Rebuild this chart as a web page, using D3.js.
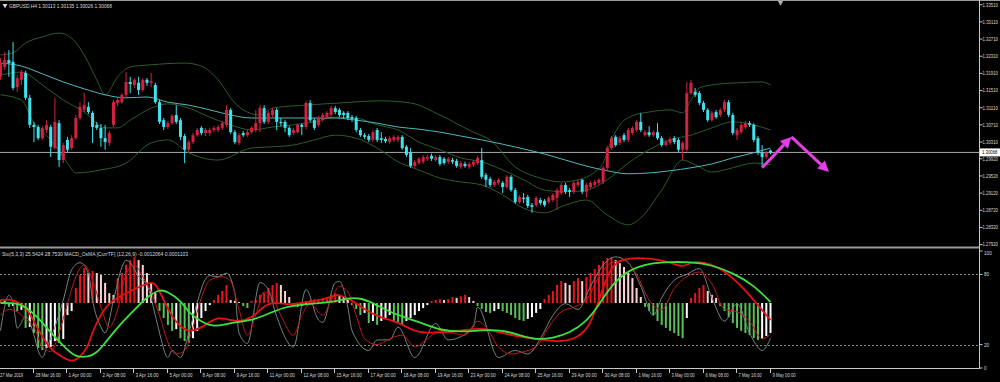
<!DOCTYPE html>
<html>
<head>
<meta charset="utf-8">
<script src="https://cdn.jsdelivr.net/npm/d3@7/dist/d3.min.js"></script>
<style>
  html, body { margin: 0; padding: 0; background: #000; }
  svg { display: block; }
  text { font-family: "Liberation Sans", Arial, sans-serif; fill: #d8d8d8; }
</style>
</head>
<body>
<div id="chart"></div>
<script>
'use strict';

// GBPUSD H4 bars, [open, high, low, close]
const ohlc = [
  [1.3183,1.3227,1.3176,1.3215],[1.3206,1.3241,1.3199,1.3222],[1.3222,1.3245,1.3183,1.3215],[1.3218,1.3264,1.3152,1.3157],
  [1.3159,1.3187,1.3148,1.3180],[1.3176,1.3199,1.3164,1.3194],[1.3192,1.3197,1.3129,1.3134],[1.3134,1.3141,1.3064,1.3071],
  [1.3071,1.3078,1.3031,1.3066],[1.3066,1.3071,1.3036,1.3040],[1.3040,1.3068,1.3036,1.3064],[1.3059,1.3082,1.3052,1.3071],
  [1.3066,1.3071,1.2996,1.3020],[1.3017,1.3134,1.3013,1.3078],[1.3075,1.3082,1.2973,1.2989],[1.2989,1.3029,1.2982,1.3024],
  [1.3036,1.3043,1.3008,1.3013],[1.3017,1.3047,1.3013,1.3040],[1.3040,1.3094,1.3036,1.3087],[1.3087,1.3124,1.3082,1.3113],
  [1.3106,1.3145,1.3101,1.3117],[1.3113,1.3124,1.3096,1.3101],[1.3099,1.3103,1.3029,1.3066],[1.3071,1.3078,1.3059,1.3064],
  [1.3064,1.3073,1.3020,1.3040],[1.3040,1.3071,1.3013,1.3031],[1.3029,1.3057,1.3022,1.3052],[1.3071,1.3129,1.3066,1.3124],
  [1.3122,1.3134,1.3115,1.3129],[1.3124,1.3145,1.3120,1.3141],[1.3141,1.3194,1.3136,1.3171],[1.3171,1.3183,1.3145,1.3166],
  [1.3164,1.3180,1.3157,1.3176],[1.3169,1.3183,1.3141,1.3152],[1.3152,1.3180,1.3148,1.3176],[1.3176,1.3180,1.3162,1.3169],
  [1.3169,1.3192,1.3159,1.3173],[1.3164,1.3169,1.3120,1.3124],[1.3124,1.3129,1.3073,1.3078],[1.3082,1.3087,1.3059,1.3066],
  [1.3066,1.3080,1.3061,1.3075],[1.3075,1.3096,1.3071,1.3092],[1.3094,1.3117,1.3073,1.3078],[1.3082,1.3087,1.3036,1.3043],
  [1.3045,1.3050,1.2982,1.3013],[1.3013,1.3036,1.3008,1.3031],[1.3031,1.3052,1.3026,1.3047],[1.3047,1.3064,1.3043,1.3059],
  [1.3064,1.3068,1.3047,1.3052],[1.3052,1.3064,1.3045,1.3059],[1.3052,1.3064,1.3045,1.3059],[1.3059,1.3068,1.3054,1.3064],
  [1.3059,1.3071,1.3054,1.3066],[1.3064,1.3080,1.3059,1.3075],[1.3071,1.3117,1.3066,1.3106],[1.3106,1.3110,1.3050,1.3054],
  [1.3054,1.3059,1.3026,1.3031],[1.3029,1.3052,1.3024,1.3047],[1.3052,1.3057,1.3043,1.3047],[1.3047,1.3059,1.3043,1.3054],
  [1.3054,1.3068,1.3050,1.3064],[1.3059,1.3106,1.3054,1.3075],[1.3075,1.3117,1.3054,1.3110],[1.3110,1.3117,1.3073,1.3078],
  [1.3078,1.3103,1.3073,1.3099],[1.3094,1.3110,1.3089,1.3106],[1.3106,1.3110,1.3059,1.3078],[1.3078,1.3087,1.3068,1.3075],
  [1.3078,1.3082,1.3054,1.3064],[1.3064,1.3068,1.3043,1.3047],[1.3052,1.3064,1.3047,1.3059],[1.3054,1.3075,1.3050,1.3071],
  [1.3071,1.3075,1.3047,1.3066],[1.3066,1.3127,1.3061,1.3122],[1.3122,1.3129,1.3078,1.3082],[1.3082,1.3087,1.3059,1.3064],
  [1.3071,1.3092,1.3066,1.3087],[1.3082,1.3099,1.3078,1.3094],[1.3089,1.3103,1.3085,1.3099],[1.3094,1.3115,1.3089,1.3110],
  [1.3110,1.3115,1.3096,1.3101],[1.3106,1.3110,1.3089,1.3094],[1.3099,1.3103,1.3087,1.3094],[1.3099,1.3103,1.3082,1.3087],
  [1.3089,1.3094,1.3078,1.3085],[1.3087,1.3092,1.3054,1.3059],[1.3059,1.3064,1.3043,1.3047],[1.3047,1.3052,1.3038,1.3043],
  [1.3045,1.3050,1.3031,1.3036],[1.3036,1.3059,1.3031,1.3054],[1.3059,1.3064,1.3031,1.3036],[1.3040,1.3054,1.3029,1.3036],
  [1.3038,1.3043,1.3029,1.3033],[1.3031,1.3045,1.3026,1.3040],[1.3036,1.3047,1.3031,1.3043],[1.3036,1.3047,1.3031,1.3043],
  [1.3043,1.3047,1.3013,1.3017],[1.3020,1.3024,1.2996,1.3001],[1.3006,1.3017,1.2971,1.2975],[1.2975,1.2989,1.2971,1.2985],
  [1.2982,1.2996,1.2978,1.2992],[1.2985,1.3001,1.2980,1.2996],[1.2992,1.3001,1.2987,1.2996],[1.2999,1.3004,1.2987,1.2992],
  [1.2989,1.3001,1.2985,1.2996],[1.2996,1.3001,1.2975,1.2980],[1.2992,1.2996,1.2978,1.2982],[1.2985,1.2996,1.2980,1.2992],
  [1.2989,1.2994,1.2980,1.2985],[1.2987,1.2992,1.2971,1.2975],[1.2973,1.2987,1.2968,1.2982],[1.2980,1.2985,1.2971,1.2975],
  [1.2973,1.2985,1.2968,1.2980],[1.2978,1.2989,1.2973,1.2985],[1.2982,1.2999,1.2978,1.2994],[1.2989,1.3017,1.2945,1.2950],
  [1.2954,1.2959,1.2926,1.2943],[1.2945,1.2950,1.2926,1.2931],[1.2931,1.2943,1.2926,1.2938],[1.2936,1.2947,1.2931,1.2943],
  [1.2936,1.2940,1.2912,1.2926],[1.2926,1.2954,1.2922,1.2950],[1.2950,1.2954,1.2915,1.2919],[1.2919,1.2924,1.2887,1.2891],
  [1.2891,1.2908,1.2887,1.2903],[1.2901,1.2912,1.2889,1.2898],[1.2903,1.2908,1.2877,1.2882],[1.2884,1.2889,1.2866,1.2880],
  [1.2884,1.2905,1.2880,1.2901],[1.2896,1.2901,1.2884,1.2889],[1.2894,1.2898,1.2880,1.2884],[1.2891,1.2905,1.2887,1.2901],
  [1.2896,1.2912,1.2891,1.2908],[1.2901,1.2924,1.2873,1.2919],[1.2912,1.2936,1.2908,1.2931],[1.2931,1.2936,1.2910,1.2915],
  [1.2919,1.2924,1.2903,1.2915],[1.2915,1.2940,1.2910,1.2936],[1.2931,1.2943,1.2926,1.2938],[1.2943,1.2945,1.2910,1.2915],
  [1.2915,1.2936,1.2901,1.2931],[1.2926,1.2940,1.2922,1.2936],[1.2931,1.2943,1.2926,1.2938],[1.2936,1.2947,1.2931,1.2943],
  [1.2938,1.2975,1.2933,1.2971],[1.2971,1.3022,1.2966,1.3017],[1.3017,1.3045,1.3013,1.3040],[1.3043,1.3047,1.3020,1.3024],
  [1.3029,1.3045,1.3024,1.3040],[1.3047,1.3052,1.3031,1.3036],[1.3036,1.3064,1.3031,1.3059],[1.3052,1.3068,1.3047,1.3064],
  [1.3059,1.3082,1.3054,1.3078],[1.3078,1.3099,1.3054,1.3059],[1.3047,1.3059,1.3043,1.3054],[1.3054,1.3068,1.3043,1.3047],
  [1.3047,1.3059,1.3043,1.3054],[1.3054,1.3075,1.3036,1.3040],[1.3040,1.3045,1.3020,1.3024],[1.3024,1.3036,1.3020,1.3031],
  [1.3029,1.3043,1.3024,1.3038],[1.3040,1.3045,1.3026,1.3031],[1.3036,1.3040,1.3008,1.3013],[1.3013,1.3033,1.2989,1.3029],
  [1.3013,1.3171,1.3008,1.3145],[1.3145,1.3176,1.3141,1.3169],[1.3148,1.3157,1.3136,1.3141],[1.3145,1.3150,1.3117,1.3122],
  [1.3122,1.3127,1.3101,1.3106],[1.3106,1.3110,1.3078,1.3082],[1.3082,1.3103,1.3078,1.3099],[1.3101,1.3106,1.3085,1.3089],
  [1.3094,1.3110,1.3089,1.3106],[1.3106,1.3129,1.3101,1.3124],[1.3124,1.3129,1.3089,1.3094],[1.3094,1.3099,1.3047,1.3052],
  [1.3047,1.3064,1.3036,1.3059],[1.3054,1.3075,1.3050,1.3071],[1.3066,1.3080,1.3061,1.3075],[1.3075,1.3080,1.3066,1.3071],
  [1.3071,1.3075,1.3031,1.3036],[1.3040,1.3045,1.3001,1.3006],[1.3006,1.3024,1.2973,1.2996],[1.2996,1.3010,1.2992,1.3006],
  [1.30113,1.30135,1.30026,1.30068]
];

// indicator lines, [bar, price]
const bbUpper = [[0,1.3234],[3,1.3239],[6,1.3262],[10,1.3276],[14,1.3285],[17,1.3273],[20,1.3234],[23,1.3176],[25,1.3141],
  [28,1.3183],[31,1.3206],[36,1.3211],[44,1.3215],[48,1.3208],[52,1.3176],[56,1.3122],[58,1.3106],[62,1.3094],[65,1.3110],
  [73,1.3117],[81,1.3122],[91,1.3127],[98,1.3122],[105,1.3094],[113,1.3054],[117,1.3036],[123,1.2973],[129,1.2947],
  [134,1.2938],[138,1.2943],[142,1.2961],[144,1.2982],[146,1.3036],[148,1.3071],[151,1.3092],[155,1.3101],[160,1.3106],
  [163,1.3099],[165,1.3129],[167,1.3157],[170,1.3164],[176,1.3169],[182,1.3171],[184,1.3164]];
const bbMiddle = [[0,1.3187],[5,1.3194],[10,1.3164],[15,1.3129],[20,1.3101],[25,1.3064],[28,1.3064],[31,1.3082],[36,1.3110],
  [40,1.3120],[45,1.3110],[50,1.3089],[55,1.3071],[60,1.3059],[65,1.3066],[70,1.3071],[75,1.3078],[80,1.3089],[85,1.3087],
  [90,1.3071],[95,1.3059],[100,1.3031],[105,1.3013],[110,1.2994],[115,1.2985],[120,1.2966],[125,1.2943],[130,1.2919],
  [135,1.2915],[140,1.2919],[145,1.2943],[150,1.2982],[155,1.3013],[160,1.3036],[165,1.3047],[170,1.3064],[175,1.3078],
  [180,1.3071],[184,1.3059]];
const bbLower = [[0,1.3141],[5,1.3129],[8,1.3075],[12,1.3036],[16,1.2982],[18,1.2959],[24,1.2966],[30,1.2982],[36,1.3029],
  [40,1.3036],[45,1.3006],[52,1.2989],[60,1.3017],[65,1.3020],[70,1.3024],[75,1.3036],[80,1.3047],[85,1.3040],[90,1.3017],
  [95,1.2985],[100,1.2966],[105,1.2947],[110,1.2938],[115,1.2931],[120,1.2908],[125,1.2877],[130,1.2866],[135,1.2884],
  [140,1.2896],[145,1.2861],[150,1.2838],[153,1.2854],[158,1.2919],[163,1.2989],[166,1.2978],[170,1.2961],[175,1.2971],
  [180,1.2982],[184,1.2978]];
const maLine = [[0,1.3215],[5,1.3208],[10,1.3190],[15,1.3171],[20,1.3155],[25,1.3141],[30,1.3134],[35,1.3136],[40,1.3124],
  [45,1.3117],[50,1.3106],[55,1.3094],[60,1.3087],[70,1.3087],[80,1.3087],[85,1.3082],[90,1.3075],[95,1.3066],[100,1.3061],
  [105,1.3054],[110,1.3045],[115,1.3036],[120,1.3026],[125,1.3015],[130,1.3003],[135,1.2989],[140,1.2975],[145,1.2964],
  [150,1.2957],[155,1.2959],[160,1.2964],[165,1.2971],[170,1.2980],[175,1.2994],[180,1.3006],[184,1.3017]];

// hand-drawn arrows, [bar, price]
const arrowUp = [[182,1.2971],[189,1.3043]];
const arrowDown = [[189,1.3043],[198,1.2961]];

// lower window: stochastic (0..100) and MACD/OsMA
const stochMain = [[0,32],[2,62],[3,56],[4,34],[6,44],[8,28],[9,15],[10,9],[11,17],[13,35],[15,58],[17,84],[19,90],[21,81],
  [22,58],[24,35],[25,30],[27,58],[29,86],[30,92],[31,90],[33,78],[35,71],[37,45],[38,30],[40,9],[41,15],[43,9],[45,30],
  [47,56],[49,76],[50,79],[52,78],[54,81],[56,64],[57,30],[59,21],[62,73],[64,67],[66,44],[70,18],[73,67],[76,41],[77,39],
  [80,73],[81,74],[83,52],[84,32],[88,15],[90,24],[93,24],[95,35],[99,9],[104,38],[107,24],[113,35],[114,52],[119,9],
  [123,15],[126,12],[129,25],[132,45],[135,55],[138,50],[141,70],[144,88],[147,95],[150,90],[153,70],[156,45],[158,60],
  [161,75],[164,80],[167,85],[170,60],[173,40],[176,55],[179,30],[182,15],[184,25.5]];
const stochSignal = [[0,45],[2,50],[4,48],[6,42],[8,35],[10,18],[12,14],[14,30],[16,55],[18,78],[20,88],[22,75],[24,52],
  [26,35],[28,50],[30,80],[32,88],[34,78],[36,65],[38,45],[40,22],[42,12],[44,15],[46,35],[48,60],[50,75],[53,78],[55,74],
  [57,50],[59,28],[61,45],[63,65],[65,60],[67,45],[70,28],[72,45],[74,55],[77,45],[79,58],[81,70],[83,65],[85,45],[87,25],
  [90,20],[93,25],[96,28],[99,18],[102,25],[105,32],[108,30],[111,28],[114,40],[116,35],[119,18],[122,12],[125,14],[128,18],
  [131,35],[134,48],[137,52],[140,58],[143,78],[146,90],[149,92],[152,80],[155,58],[158,50],[161,68],[164,78],[167,82],
  [170,72],[173,50],[176,48],[179,40],[182,25],[184,28.75]];
const macdLine = [[0,0.0001],[2,0.00013],[5,0],[7,-0.00033],[9,-0.0009],[12,-0.00157],[14,-0.00173],[17,-0.002],[19,-0.0018],
  [21,-0.00147],[22,-0.0009],[25,-0.00013],[27,0.0001],[30,0.00033],[33,0.00053],[36,0.0007],[37,0.00067],[39,0.0001],
  [41,-0.00047],[43,-0.0008],[45,-0.00097],[48,-0.00083],[50,-0.00063],[52,-0.00047],[55,-0.00057],[57,-0.00063],[60,-0.0005],
  [62,-0.00023],[64,0],[67,0],[69,-0.00007],[73,0.00003],[77,0.0001],[80,0.00027],[81,0.00027],[84,0.0001],[87,-0.00023],
  [91,-0.0005],[95,-0.00063],[99,-0.00097],[103,-0.001],[107,-0.00097],[111,-0.0009],[115,-0.00083],[119,-0.00097],
  [122,-0.00107],[126,-0.00117],[130,-0.00123],[134,-0.0013],[138,-0.00117],[141,-0.00073],[143,0.0001],[145,0.00093],
  [147,0.00137],[150,0.0015],[155,0.0015],[160,0.00137],[163,0.00117],[165,0.00137],[168,0.00137],[172,0.00117],
  [175,0.00083],[178,0.00043],[181,-0.00007],[184,-0.00057]];
const macdSignal = [[0,0],[4,0],[6,-0.00013],[9,-0.00047],[12,-0.001],[16,-0.00157],[18,-0.0018],[21,-0.0018],[23,-0.00167],
  [25,-0.00133],[28,-0.0008],[32,-0.00023],[35,0.0002],[38,0.00047],[40,0.00037],[43,0.0001],[45,-0.00033],[48,-0.00063],
  [51,-0.0008],[54,-0.0007],[57,-0.00063],[60,-0.00057],[62,-0.00047],[65,-0.0003],[68,-0.00013],[73,-0.00003],[80,0.00003],
  [83,0.00017],[86,0.00017],[89,0],[93,-0.0003],[97,-0.0005],[102,-0.00073],[105,-0.0009],[110,-0.00097],[115,-0.0009],
  [120,-0.0009],[124,-0.00107],[128,-0.00123],[132,-0.00117],[136,-0.001],[140,-0.00063],[143,-0.00007],[146,0.0006],
  [150,0.0011],[155,0.00133],[160,0.00137],[165,0.00137],[170,0.00127],[175,0.001],[180,0.0006],[184,0.00003]];
// OsMA histogram, one value per bar
const osma = [
  0.0001,0.00007,-0.00013,-0.0001,-0.00027,-0.00023,-0.00083,-0.0008,-0.001,-0.0015,
  -0.00157,-0.0015,-0.00147,-0.00127,-0.00133,-0.0012,-0.0004,-0.00027,0.0005,0.00093,
  0.00117,0.001,0.00107,0.001,0.00093,0.00067,0.00033,0.00027,0.00083,0.001,
  0.00127,0.00143,0.00153,0.00143,0.00127,0.001,0.00067,0.00033,-0.00027,-0.0005,
  -0.00073,-0.00093,-0.00087,-0.00117,-0.00127,-0.00133,-0.00117,-0.00093,-0.0005,-0.00027,
  -0.00007,0.0001,0.00027,0.0004,0.0006,0.0001,0.00007,0.00003,-0.0001,-0.00017,
  0.00007,0.0001,0.00027,0.00033,0.0005,0.0006,0.00067,0.0006,0.0004,0.0002,
  -0.00007,-0.00013,-0.0001,-0.00003,0.0001,0.00013,0.00013,0.00017,0.0002,0.00027,
  0.00033,0.00027,0.0002,0.0001,-0.00007,-0.0002,-0.0004,-0.00033,-0.00067,-0.0006,
  -0.00073,-0.0006,-0.0005,-0.0004,-0.0006,-0.00067,-0.00073,-0.0006,-0.0005,-0.0004,
  -0.00027,-0.00017,-0.00007,0.00007,0.0001,0.00013,0.0001,0.00013,0.0002,0.00017,
  0.00023,0.00027,0.0002,0.00007,-0.0001,-0.0002,-0.0003,-0.00033,-0.00027,-0.0002,
  -0.00027,-0.00033,-0.0004,-0.0005,-0.00057,-0.0006,-0.00053,-0.00047,-0.00033,-0.0002,
  0.00013,0.00027,0.0004,0.0006,0.00073,0.00067,0.0006,0.00073,0.00083,0.00073,
  0.00087,0.001,0.00113,0.00127,0.0014,0.0015,0.00153,0.00143,0.00133,0.0012,
  0.001,0.00083,0.0005,0.0002,-0.00013,-0.00027,-0.0004,-0.0006,-0.00073,-0.00083,
  -0.00093,-0.001,-0.0011,-0.00117,-0.0005,0.00017,0.00033,0.0005,0.0006,0.0004,
  0.00027,0.00017,-0.0001,-0.00027,-0.00047,-0.00067,-0.00083,-0.00093,-0.001,-0.00107,
  -0.00117,-0.00123,-0.0012,-0.0011,-0.001
];

const priceTicks = ["1.33510","1.33110","1.32710","1.32310","1.31910","1.31510","1.31110","1.30710","1.30310",
  "1.29920","1.29520","1.29120","1.28720","1.28320","1.27920"];
const oscTicks = [100, 80, 20, 0];
const timeLabels = ["27 Mar 2019","28 Mar 16:00","1 Apr 00:00","2 Apr 08:00","3 Apr 16:00","5 Apr 00:00","8 Apr 08:00",
  "9 Apr 16:00","11 Apr 00:00","12 Apr 08:00","15 Apr 16:00","17 Apr 00:00","18 Apr 08:00","19 Apr 16:00","23 Apr 00:00",
  "24 Apr 08:00","25 Apr 16:00","29 Apr 00:00","30 Apr 08:00","1 May 16:00","3 May 00:00","6 May 08:00","7 May 16:00",
  "9 May 00:00"];
const barsPerLabel = 8;
const lastPrice = 1.30068;

const title = "GBPUSD,H4  1.30113 1.30135 1.30026 1.30068";
const subTitle = "Sto(5,3,3) 25.5424 28.7530   MACD_OsMA [CurrTF] (12,26,9) -0.0012064 0.0001103";

// small narrow text, squeezed to the width seen in the terminal's font
function addText(parent, x, y, str, len, size, colour) {
  return parent.append('text')
               .attr('x', x)
               .attr('y', y)
               .attr('textLength', len)
               .attr('lengthAdjust', 'spacingAndGlyphs')
               .style('font-size', (size || 5.6) + 'px')
               .style('fill', colour || '#d8d8d8')
               .text(str);
}

function makeChart() {
  var width = 1000;
  var height = 382;
  var axisX = 979.5;

  var x = d3.scaleLinear().domain([0, ohlc.length - 1]).range([0.5, 770.5]);
  var yPrice = d3.scaleLinear().domain([1.2792, 1.3362]).range([244.6, 0]);
  var yOsc = d3.scaleLinear().domain([0, 100]).range([368, 251]);
  var yMacd = d3.scaleLinear().domain([-0.002, 0.0015]).range([363, 258]);

  var svg = d3.select('#chart')
              .append('svg')
              .attr('width', width)
              .attr('height', height);

  svg.append('rect').attr('width', width).attr('height', height).attr('fill', '#000');

  var defs = svg.append('defs');
  defs.append('clipPath').attr('id', 'clipPrice')
      .append('rect').attr('x', 0).attr('y', 0).attr('width', axisX).attr('height', 247);
  defs.append('clipPath').attr('id', 'clipOsc')
      .append('rect').attr('x', 0).attr('y', 250).attr('width', axisX).attr('height', 118);

  // frame lines
  svg.append('line').attr('x1', 0).attr('x2', width).attr('y1', 0.5).attr('y2', 0.5)
     .attr('stroke', '#9a9a9a');
  svg.append('line').attr('x1', 0).attr('x2', axisX).attr('y1', 247.5).attr('y2', 247.5)
     .attr('stroke', '#9a9a9a').attr('stroke-width', 2);
  svg.append('line').attr('x1', 0).attr('x2', axisX).attr('y1', 368.5).attr('y2', 368.5)
     .attr('stroke', '#c8c8c8');
  svg.append('line').attr('x1', axisX).attr('x2', axisX).attr('y1', 0).attr('y2', 369)
     .attr('stroke', '#c8c8c8');

  // shift marker at the top
  svg.append('path')
     .attr('d', d3.symbol().type(d3.symbolTriangle).size(14)())
     .attr('transform', 'translate(' + (x(ohlc.length - 1) + 10) + ',2.5) rotate(180)')
     .attr('fill', '#b0b0b0');

  var price = svg.append('g').attr('clip-path', 'url(#clipPrice)');

  // current price line
  price.append('line')
       .attr('x1', 0).attr('x2', axisX)
       .attr('y1', yPrice(lastPrice)).attr('y2', yPrice(lastPrice))
       .attr('stroke', '#a8a8a8').attr('stroke-width', 1);

  var priceLine = d3.line()
                    .x(function(d) { return x(d[0]); })
                    .y(function(d) { return yPrice(d[1]); })
                    .curve(d3.curveMonotoneX);

  [bbUpper, bbMiddle, bbLower].forEach(function(band) {
    price.append('path')
         .attr('d', priceLine(band))
         .attr('fill', 'none')
         .attr('stroke', '#2d5c2d')
         .attr('stroke-width', 1);
  });

  price.append('path')
       .attr('d', priceLine(maLine))
       .attr('fill', 'none')
       .attr('stroke', '#4fb8bc')
       .attr('stroke-width', 1);

  // candles
  var bull = '#cf2340';
  var bear = '#3fe2ef';
  var candle = price.selectAll('.candle')
                    .data(ohlc)
                    .enter()
                    .append('g')
                    .attr('class', 'candle');

  candle.append('line')
        .attr('x1', function(d, i) { return x(i); })
        .attr('x2', function(d, i) { return x(i); })
        .attr('y1', function(d) { return yPrice(d[1]); })
        .attr('y2', function(d) { return yPrice(d[2]); })
        .attr('stroke', function(d) { return d[3] >= d[0] ? bull : bear; })
        .attr('stroke-width', 1);

  candle.append('rect')
        .attr('x', function(d, i) { return x(i) - 1.5; })
        .attr('width', 3)
        .attr('y', function(d) { return yPrice(Math.max(d[0], d[3])); })
        .attr('height', function(d) {
          return Math.max(1, Math.abs(yPrice(d[0]) - yPrice(d[3])));
        })
        .attr('fill', function(d) { return d[3] >= d[0] ? bull : bear; });

  // arrows
  var pink = '#e33fe3';
  [arrowUp, arrowDown].forEach(function(a) {
    var x1 = x(a[0][0]), y1 = yPrice(a[0][1]);
    var x2 = x(a[1][0]), y2 = yPrice(a[1][1]);
    var ang = Math.atan2(y2 - y1, x2 - x1);
    var headLen = 11;
    var bx = x2 - headLen * Math.cos(ang), by = y2 - headLen * Math.sin(ang);
    price.append('line')
         .attr('x1', x1).attr('y1', y1).attr('x2', bx).attr('y2', by)
         .attr('stroke', pink).attr('stroke-width', 3);
    var w = 5.5;
    var px = -Math.sin(ang) * w, py = Math.cos(ang) * w;
    price.append('path')
         .attr('d', 'M' + x2 + ',' + y2 + 'L' + (bx + px) + ',' + (by + py) + 'L' + (bx - px) + ',' + (by - py) + 'Z')
         .attr('fill', pink);
  });

  // lower window
  var osc = svg.append('g').attr('clip-path', 'url(#clipOsc)');

  [80, 20].forEach(function(level) {
    osc.append('line')
       .attr('x1', 0).attr('x2', axisX)
       .attr('y1', Math.round(yOsc(level)) + 0.5).attr('y2', Math.round(yOsc(level)) + 0.5)
       .attr('stroke', '#8a8a8a')
       .attr('stroke-dasharray', '2,2');
  });

  osc.selectAll('.hist')
     .data(osma)
     .enter()
     .append('rect')
     .attr('class', 'hist')
     .attr('x', function(d, i) { return x(i) - 1; })
     .attr('width', 2)
     .attr('y', function(d) { return Math.min(yMacd(d), yMacd(0)); })
     .attr('height', function(d) { return Math.max(0.8, Math.abs(yMacd(d) - yMacd(0))); })
     .attr('fill', function(d, i) {
       var prev = i > 0 ? osma[i - 1] : d;
       if (d >= 0) return d >= prev ? '#e8141e' : '#ffd2d2';
       return d <= prev ? '#58c058' : '#ffffff';
     });

  var oscLine = d3.line()
                  .x(function(d) { return x(d[0]); })
                  .y(function(d) { return yOsc(d[1]); })
                  .curve(d3.curveMonotoneX);
  var macdPath = d3.line()
                   .x(function(d) { return x(d[0]); })
                   .y(function(d) { return yMacd(d[1]); })
                   .curve(d3.curveBasis);

  osc.append('path').attr('d', oscLine(stochMain))
     .attr('fill', 'none').attr('stroke', '#6f8585').attr('stroke-width', 1);
  osc.append('path').attr('d', oscLine(stochSignal))
     .attr('fill', 'none').attr('stroke', '#c01818').attr('stroke-width', 1);
  osc.append('path').attr('d', macdPath(macdLine))
     .attr('fill', 'none').attr('stroke', '#e81010').attr('stroke-width', 1.8);
  osc.append('path').attr('d', macdPath(macdSignal))
     .attr('fill', 'none').attr('stroke', '#3ee03e').attr('stroke-width', 1.8);

  // texts
  svg.append('path')
     .attr('d', d3.symbol().type(d3.symbolTriangle).size(10)())
     .attr('transform', 'translate(5,5.5) rotate(180)')
     .attr('fill', '#e0e0e0');
  addText(svg, 9, 8, title, 103);
  addText(svg, 2, 256, subTitle, 186);

  // right price axis
  priceTicks.forEach(function(t) {
    var yy = yPrice(+t);
    svg.append('line').attr('x1', axisX).attr('x2', axisX + 3).attr('y1', yy).attr('y2', yy)
       .attr('stroke', '#c8c8c8');
    addText(svg, 982.5, yy + 1.8, t, 15.5, 4.5);
  });

  var ly = yPrice(lastPrice);
  svg.append('rect').attr('x', axisX + 0.5).attr('y', ly - 4).attr('width', 20).attr('height', 8).attr('fill', '#ffffff');
  addText(svg, 982, ly + 1.8, lastPrice.toFixed(5), 15.5, 4.5, '#000');

  oscTicks.forEach(function(t) {
    var yy = yOsc(t);
    svg.append('line').attr('x1', axisX).attr('x2', axisX + 3).attr('y1', yy).attr('y2', yy)
       .attr('stroke', '#c8c8c8');
    addText(svg, 984, yy + (t === 100 ? 4 : 2), String(t), String(t).length * 2.6);
  });

  // time axis
  timeLabels.forEach(function(label, k) {
    var xx = Math.round(x(k * barsPerLabel)) - 0.5;
    if (k > 0) {
      svg.append('line').attr('x1', xx).attr('x2', xx).attr('y1', 369).attr('y2', 373)
         .attr('stroke', '#c8c8c8');
    }
    addText(svg, k > 0 ? xx + 2 : 0, 377, label, label.length * 2.1);
  });
}

makeChart();
</script>
</body>
</html>
